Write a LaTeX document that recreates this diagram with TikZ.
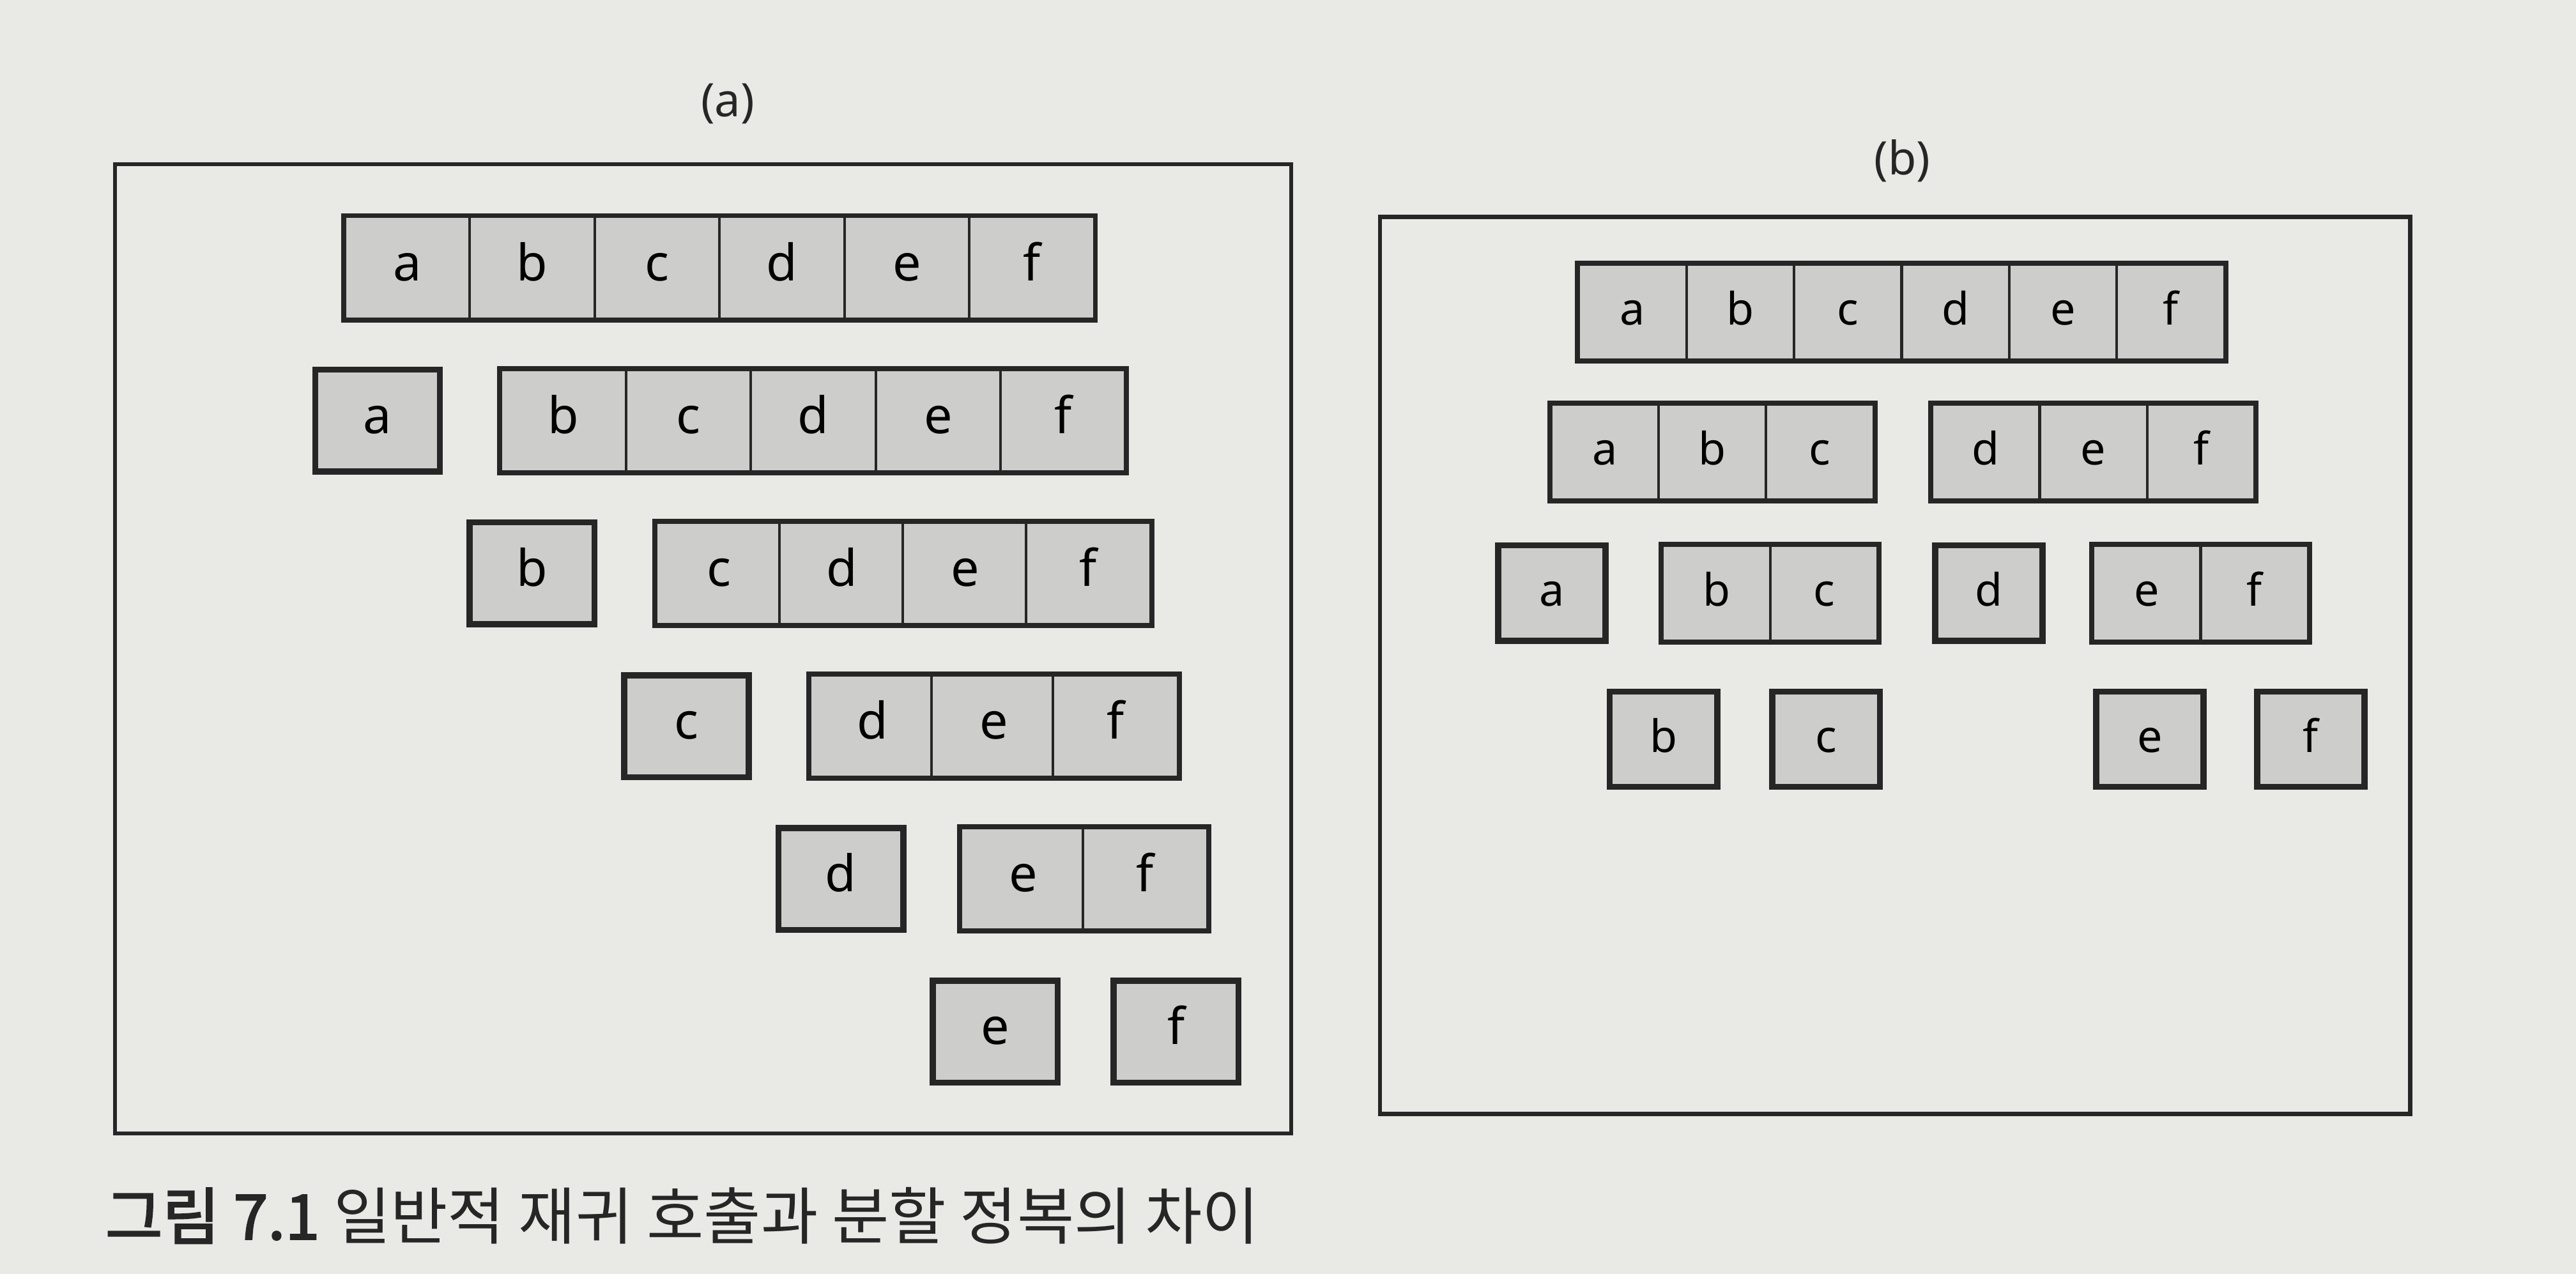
\documentclass[tikz,border=0pt]{standalone}
\usepackage{fontspec}
\setmainfont{Noto Sans}
\newfontfamily\kr[AutoFakeBold=2.5]{Noto Sans CJK KR}
\definecolor{paper}{HTML}{E9E9E6}
\definecolor{cellgray}{HTML}{CDCDCB}
\definecolor{ink}{HTML}{262626}
\tikzset{
  cellA/.style={draw=ink, line width=0.9pt, fill=cellgray, minimum width=1.52cm, minimum height=1.24cm, inner sep=0pt, text height=0.88em, text depth=0em, font=\fontsize{17.5}{17.5}\selectfont},
  cellB/.style={draw=ink, line width=0.9pt, fill=cellgray, minimum width=1.31cm, minimum height=1.16cm, inner sep=0pt, text height=0.88em, text depth=0em, font=\fontsize{15.5}{15.5}\selectfont},
  groupframe/.style={draw=ink, line width=1.7pt},
  single/.style={line width=2.1pt},
  panel/.style={draw=ink, line width=1.4pt},
  plabel/.style={font=\fontsize{16}{16}\selectfont, text=ink}
}
% #1 style, #2 prefix, #3 left x, #4 centre y, #5 cell width (units), #6 count, #7 letters
\newcommand\cellrow[7]{%
  \foreach \l [count=\i] in {#7} {
    \node[#1] (#2\i) at ({#3+(\i-0.5)*#5}, #4) {\l};
  }
  \draw[groupframe] (#21.north west) rectangle (#2#6.south east);
}
\newcommand\onebox[5]{% #1 style, #2 name, #3 left x, #4 y, #5 letter
  \node[#1, single] (#2) at (#3, #4) [anchor=west] {#5};
}
\begin{document}
\begin{tikzpicture}[x=0.02cm, y=-0.02cm]
\fill[paper] (0,0) rectangle (1568,775.4);
\useasboundingbox (0,0) rectangle (1568,775.4);

% panel (a)
\node[plabel] (la) at (443,63) {(a)};
\draw[panel] (70,100) rectangle (786,690);
\cellrow{cellA}{ra}{210}{163}{76}{6}{a,b,c,d,e,f}
\onebox{cellA}{sa}{190}{256}{a}
\cellrow{cellA}{rb}{305}{256}{76}{5}{b,c,d,e,f}
\onebox{cellA}{sb}{284}{349}{b}
\cellrow{cellA}{rc}{400}{349}{75}{4}{c,d,e,f}
\onebox{cellA}{sc}{378}{442}{c}
\cellrow{cellA}{rd}{494}{442}{74}{3}{d,e,f}
\onebox{cellA}{sd}{472}{535}{d}
\cellrow{cellA}{re}{586}{535}{74}{2}{e,f}
\onebox{cellA}{se}{566}{628}{e}
\onebox{cellA}{sf}{676}{628}{f}

% panel (b)
\node[plabel] (lb) at (1158,98) {(b)};
\draw[panel] (840,132) rectangle (1467,678);
\cellrow{cellB}{qa}{961}{190}{65.5}{6}{a,b,c,d,e,f}
\cellrow{cellB}{qb}{944}{275}{65.5}{3}{a,b,c}
\cellrow{cellB}{qc}{1176}{275}{65.5}{3}{d,e,f}
\onebox{cellB}{ta}{910}{361}{a}
\cellrow{cellB}{qd}{1012}{361}{65.5}{2}{b,c}
\onebox{cellB}{td}{1176}{361}{d}
\cellrow{cellB}{qe}{1274}{361}{65.5}{2}{e,f}
\onebox{cellB}{tb}{978}{450}{b}
\onebox{cellB}{tc}{1077}{450}{c}
\onebox{cellB}{te}{1274}{450}{e}
\onebox{cellB}{tf}{1372}{450}{f}

% caption
\node[anchor=west, text=ink, font=\kr\fontsize{21.5}{21.5}\selectfont] (cap) at (58,740) {{\bfseries 그림 7.1} 일반적 재귀 호출과 분할 정복의 차이};
\end{tikzpicture}
\end{document}
